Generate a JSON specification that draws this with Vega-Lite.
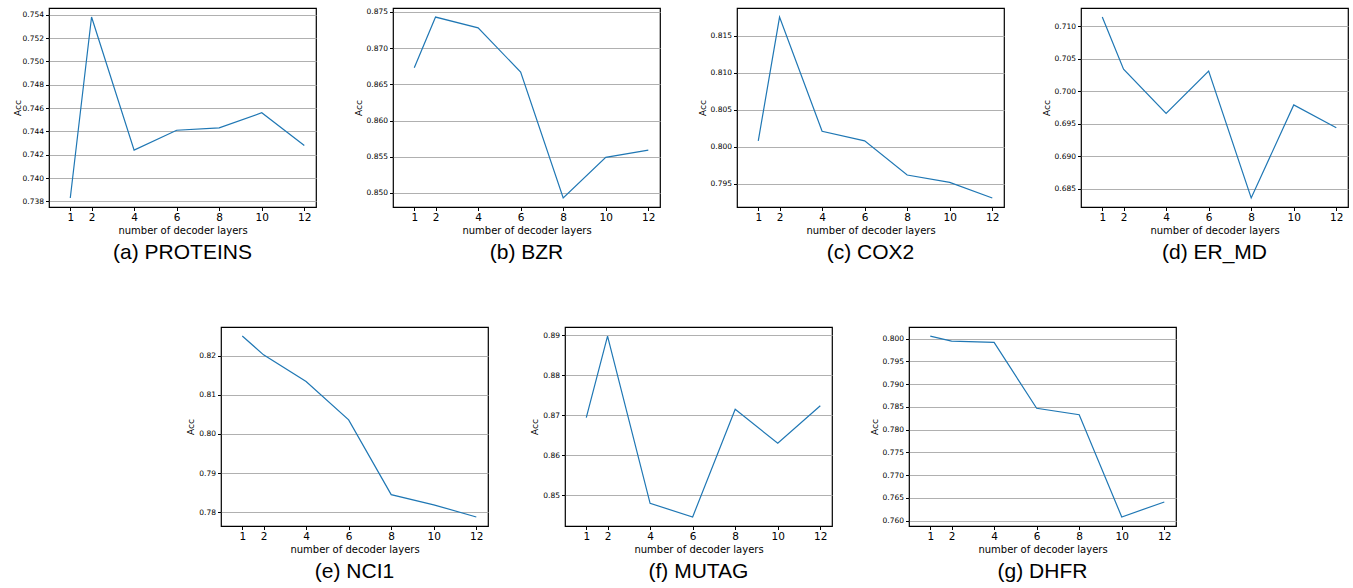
{
  "$schema": "https://vega.github.io/schema/vega-lite/v6.json",
  "background": "white",
  "padding": {"left": 12, "top": 7, "right": 0, "bottom": 0},
  "datasets": {
    "proteins": [{"layers":1,"acc":0.7383},{"layers":2,"acc":0.7538},{"layers":4,"acc":0.7424},{"layers":6,"acc":0.7441},{"layers":8,"acc":0.7443},{"layers":10,"acc":0.7456},{"layers":12,"acc":0.7428}],
    "bzr": [{"layers":1,"acc":0.8673},{"layers":2,"acc":0.8743},{"layers":4,"acc":0.8728},{"layers":6,"acc":0.8667},{"layers":8,"acc":0.8493},{"layers":10,"acc":0.8549},{"layers":12,"acc":0.8559}],
    "cox2": [{"layers":1,"acc":0.8008},{"layers":2,"acc":0.8175},{"layers":4,"acc":0.8021},{"layers":6,"acc":0.8008},{"layers":8,"acc":0.7962},{"layers":10,"acc":0.7952},{"layers":12,"acc":0.7931}],
    "ermd": [{"layers":1,"acc":0.7114},{"layers":2,"acc":0.7034},{"layers":4,"acc":0.6966},{"layers":6,"acc":0.7031},{"layers":8,"acc":0.6836},{"layers":10,"acc":0.6979},{"layers":12,"acc":0.6944}],
    "nci1": [{"layers":1,"acc":0.8250},{"layers":2,"acc":0.8202},{"layers":4,"acc":0.8134},{"layers":6,"acc":0.8036},{"layers":8,"acc":0.7845},{"layers":10,"acc":0.7819},{"layers":12,"acc":0.7788}],
    "mutag": [{"layers":1,"acc":0.8694},{"layers":2,"acc":0.8898},{"layers":4,"acc":0.8480},{"layers":6,"acc":0.8446},{"layers":8,"acc":0.8715},{"layers":10,"acc":0.8630},{"layers":12,"acc":0.8724}],
    "dhfr": [{"layers":1,"acc":0.8006},{"layers":2,"acc":0.7995},{"layers":4,"acc":0.7992},{"layers":6,"acc":0.7847},{"layers":8,"acc":0.7833},{"layers":10,"acc":0.7608},{"layers":12,"acc":0.7641}]
  },
  "vconcat": [
    {
      "hconcat": [
        {
          "title": "(a) PROTEINS", "data": {"name": "proteins"}, "width": 267, "height": 199,
          "mark": {"type": "line", "color": "#1f77b4", "strokeWidth": 1.2},
          "encoding": {
            "x": {"field": "layers", "type": "quantitative", "scale": {"domain": [0, 12.55], "nice": false, "zero": false}, "axis": {"values": [1,2,4,6,8,10,12], "title": "number of decoder layers"}},
            "y": {"field": "acc", "type": "quantitative", "scale": {"domain": [0.737525, 0.754575], "nice": false, "zero": false}, "axis": {"values": [0.738,0.740,0.742,0.744,0.746,0.748,0.750,0.752,0.754], "format": ".3f", "title": "Acc", "titlePadding": 0}}
          }
        },
        {
          "title": "(b) BZR", "data": {"name": "bzr"}, "width": 267, "height": 199,
          "mark": {"type": "line", "color": "#1f77b4", "strokeWidth": 1.2},
          "encoding": {
            "x": {"field": "layers", "type": "quantitative", "scale": {"domain": [0, 12.55], "nice": false, "zero": false}, "axis": {"values": [1,2,4,6,8,10,12], "title": "number of decoder layers"}},
            "y": {"field": "acc", "type": "quantitative", "scale": {"domain": [0.84805, 0.87555], "nice": false, "zero": false}, "axis": {"values": [0.850,0.855,0.860,0.865,0.870,0.875], "format": ".3f", "title": "Acc"}}
          }
        },
        {
          "title": "(c) COX2", "data": {"name": "cox2"}, "width": 267, "height": 199,
          "mark": {"type": "line", "color": "#1f77b4", "strokeWidth": 1.2},
          "encoding": {
            "x": {"field": "layers", "type": "quantitative", "scale": {"domain": [0, 12.55], "nice": false, "zero": false}, "axis": {"values": [1,2,4,6,8,10,12], "title": "number of decoder layers"}},
            "y": {"field": "acc", "type": "quantitative", "scale": {"domain": [0.79188, 0.81872], "nice": false, "zero": false}, "axis": {"values": [0.795,0.800,0.805,0.810,0.815], "format": ".3f", "title": "Acc"}}
          }
        },
        {
          "title": "(d) ER_MD", "data": {"name": "ermd"}, "width": 267, "height": 199,
          "mark": {"type": "line", "color": "#1f77b4", "strokeWidth": 1.2},
          "encoding": {
            "x": {"field": "layers", "type": "quantitative", "scale": {"domain": [0, 12.55], "nice": false, "zero": false}, "axis": {"values": [1,2,4,6,8,10,12], "title": "number of decoder layers"}},
            "y": {"field": "acc", "type": "quantitative", "scale": {"domain": [0.68221, 0.71279], "nice": false, "zero": false}, "axis": {"values": [0.685,0.690,0.695,0.700,0.705,0.710], "format": ".3f", "title": "Acc"}}
          }
        }
      ],
      "spacing": 77,
      "bounds": "flush"
    },
    {
      "hconcat": [
        {
          "data": {"values": []}, "width": 95, "height": 199,
          "view": {"stroke": null},
          "mark": {"type": "point", "opacity": 0},
          "encoding": {}
        },
        {
          "title": "(e) NCI1", "data": {"name": "nci1"}, "width": 267, "height": 199,
          "mark": {"type": "line", "color": "#1f77b4", "strokeWidth": 1.2},
          "encoding": {
            "x": {"field": "layers", "type": "quantitative", "scale": {"domain": [0, 12.55], "nice": false, "zero": false}, "axis": {"values": [1,2,4,6,8,10,12], "title": "number of decoder layers"}},
            "y": {"field": "acc", "type": "quantitative", "scale": {"domain": [0.77649, 0.82731], "nice": false, "zero": false}, "axis": {"values": [0.78,0.79,0.80,0.81,0.82], "format": ".2f", "title": "Acc"}}
          }
        },
        {
          "title": "(f) MUTAG", "data": {"name": "mutag"}, "width": 267, "height": 199,
          "mark": {"type": "line", "color": "#1f77b4", "strokeWidth": 1.2},
          "encoding": {
            "x": {"field": "layers", "type": "quantitative", "scale": {"domain": [0, 12.55], "nice": false, "zero": false}, "axis": {"values": [1,2,4,6,8,10,12], "title": "number of decoder layers"}},
            "y": {"field": "acc", "type": "quantitative", "scale": {"domain": [0.84234, 0.89206], "nice": false, "zero": false}, "axis": {"values": [0.85,0.86,0.87,0.88,0.89], "format": ".2f", "title": "Acc"}}
          }
        },
        {
          "title": "(g) DHFR", "data": {"name": "dhfr"}, "width": 267, "height": 199,
          "mark": {"type": "line", "color": "#1f77b4", "strokeWidth": 1.2},
          "encoding": {
            "x": {"field": "layers", "type": "quantitative", "scale": {"domain": [0, 12.55], "nice": false, "zero": false}, "axis": {"values": [1,2,4,6,8,10,12], "title": "number of decoder layers"}},
            "y": {"field": "acc", "type": "quantitative", "scale": {"domain": [0.75881, 0.80259], "nice": false, "zero": false}, "axis": {"values": [0.760,0.765,0.770,0.775,0.780,0.785,0.790,0.795,0.800], "format": ".3f", "title": "Acc"}}
          }
        }
      ],
      "spacing": 77,
      "bounds": "flush"
    }
  ],
  "spacing": 62,
  "config": {
    "font": "DejaVu Sans",
    "view": {"stroke": "#000", "strokeWidth": 1.2},
    "axis": {"domain": false, "tickColor": "#000", "labelColor": "#000", "titleColor": "#000", "titleFontWeight": "normal", "tickSize": 3.5, "labelFont": "DejaVu Sans", "titleFont": "DejaVu Sans"},
    "axisX": {"labelFontSize": 10.5, "titleFontSize": 10, "labelPadding": 2, "titlePadding": 2, "grid": false, "labelAngle": 0},
    "axisY": {"labelFontSize": 7.5, "titleFontSize": 9, "gridColor": "#b0b0b0", "gridWidth": 1, "labelPadding": 2, "titlePadding": 3},
    "title": {"orient": "bottom", "font": "Liberation Sans", "fontSize": 21, "fontWeight": "normal", "anchor": "middle", "frame": "group", "color": "#000", "offset": 7}
  }
}
